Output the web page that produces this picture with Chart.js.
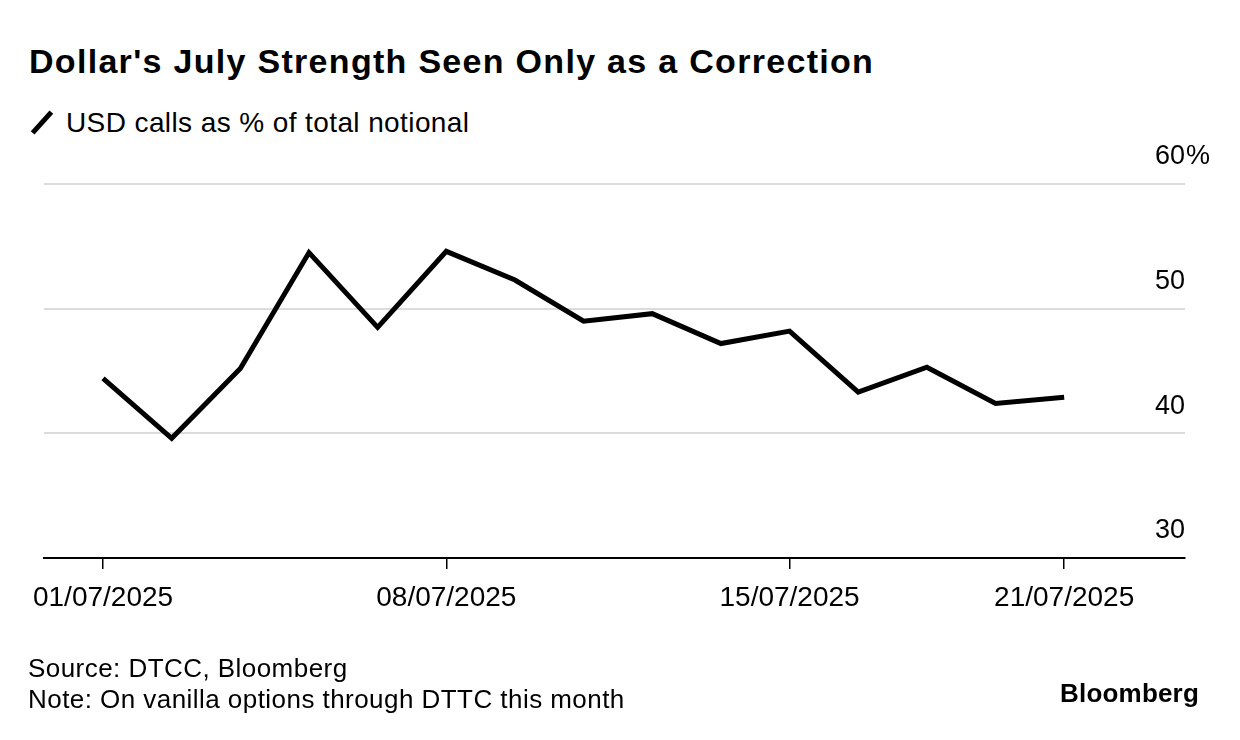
<!DOCTYPE html>
<html lang="en">
<head>
  <meta charset="UTF-8">
  <title>Dollar's July Strength Seen Only as a Correction</title>
  <script src="https://cdn.jsdelivr.net/npm/chart.js"></script>
  <style>
    html, body { margin: 0; padding: 0; background: #fff; }
    body { width: 1240px; height: 740px; position: relative; overflow: hidden; font-family: "Liberation Sans", Arial, sans-serif; color: #000; }
    .txt { position: absolute; white-space: nowrap; line-height: 1; }
    #title { left: 29px; top: 44px; font-size: 34px; font-weight: bold; letter-spacing: 1.3px; }
    #legend { left: 66px; top: 109px; font-size: 28px; letter-spacing: 0.4px; }
    #legendIcon { position: absolute; left: 28px; top: 120px; width: 28px; height: 5px; background: #000; transform: rotate(-48deg); }
    #source { left: 28px; top: 653px; font-size: 26px; line-height: 31px; letter-spacing: 0.45px; }
    #logo { left: 1060px; top: 680px; font-size: 26px; font-weight: bold; letter-spacing: 0.2px; }
    #chart { position: absolute; left: 0; top: 0; }
  </style>
</head>
<body>
  <div id="title" class="txt">Dollar's July Strength Seen Only as a Correction</div>
  <div id="legendIcon"></div>
  <div id="legend" class="txt">USD calls as % of total notional</div>
  <canvas id="chart" width="1240" height="740"></canvas>
  <div id="source" class="txt">Source: DTCC, Bloomberg<br>Note: On vanilla options through DTTC this month</div>
  <div id="logo" class="txt">Bloomberg</div>
  <script>
    // trading days, July 2025
    const dates = ['01/07/2025', '02/07/2025', '03/07/2025', '04/07/2025', '07/07/2025',
      '08/07/2025', '09/07/2025', '10/07/2025', '11/07/2025', '14/07/2025',
      '15/07/2025', '16/07/2025', '17/07/2025', '18/07/2025', '21/07/2025'];
    const usdCallsPct = [44.4, 39.6, 45.2, 54.5, 48.5, 54.6, 52.3, 49.0, 49.6, 47.2, 48.2, 43.3, 45.3, 42.4, 42.9];
    const xTickIdx = [0, 5, 10, 14];
    const yTicks = [30, 40, 50, 60];
    const FONT = '"Liberation Sans", Arial, sans-serif';

    const percentSign = {
      id: 'percentSign',
      afterDraw(chart) {
        const y = chart.scales.y, ctx = chart.ctx;
        ctx.save();
        ctx.font = '27px ' + FONT;
        ctx.fillStyle = '#000';
        ctx.textAlign = 'left';
        ctx.textBaseline = 'middle';
        ctx.fillText('%', chart.chartArea.right + 1, y.getPixelForValue(yTicks[yTicks.length - 1]) - 27);
        ctx.restore();
      }
    };

    new Chart(document.getElementById('chart'), {
      type: 'line',
      data: {
        datasets: [{
          data: usdCallsPct.map((v, i) => ({ x: i, y: v })),
          borderColor: '#000', borderWidth: 5, pointRadius: 0, tension: 0,
          borderJoinStyle: 'miter', borderCapStyle: 'butt'
        }]
      },
      options: {
        responsive: false, animation: false,
        layout: { padding: { left: 44, right: 55, top: 184, bottom: 112 } },
        plugins: { legend: { display: false }, tooltip: { enabled: false } },
        scales: {
          x: {
            type: 'linear', min: -0.86, max: 15.76,
            afterBuildTicks: s => { s.ticks = xTickIdx.map(v => ({ value: v })); },
            afterFit: s => { s.height = 70; },
            ticks: { callback: v => dates[v], autoSkip: false, maxRotation: 0, padding: 12, color: '#000',
              font: { family: FONT, size: 28 } },
            grid: { drawOnChartArea: false, drawTicks: true, tickLength: 11, color: '#000', lineWidth: 1.5 },
            border: { display: true, color: '#000', width: 2 }
          },
          y: {
            position: 'right', min: 30, max: 60,
            afterBuildTicks: s => { s.ticks = yTicks.map(v => ({ value: v })); },
            afterFit: s => { s.width = 0; },
            ticks: { mirror: true, padding: 0, labelOffset: -27, color: '#000',
              font: { family: FONT, size: 27 } },
            grid: { drawTicks: false, lineWidth: 2,
              color: c => c.tick && c.tick.value === 30 ? 'rgba(0,0,0,0)' : '#dcdcdc' },
            border: { display: false }
          }
        }
      },
      plugins: [percentSign]
    });
  </script>
</body>
</html>
